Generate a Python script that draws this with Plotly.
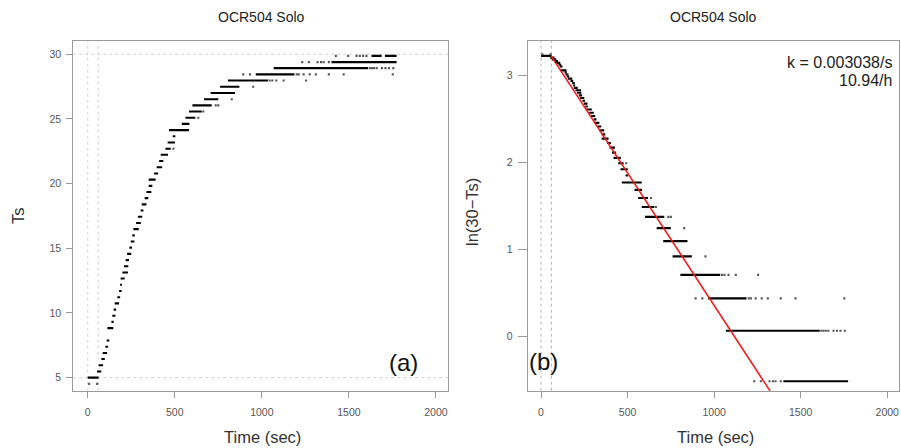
import numpy as np
import plotly.graph_objects as go

# ---------------- data ----------------
# horizontal runs of samples: temperature level, run start (s), run end (s)
seg_Ts = [5.00, 5.48, 5.96, 6.44, 6.91, 7.39, 7.87, 8.83, 9.31, 9.79,
          10.26, 10.74, 11.22, 11.70, 12.18, 12.66, 13.13, 13.61, 14.09, 14.57,
          15.05, 15.53, 16.00, 16.48, 16.96, 17.44, 17.92, 18.40, 18.88, 19.35,
          19.83, 20.31, 20.79, 21.27, 21.75, 22.23, 22.70, 23.18, 23.66, 24.14,
          24.62, 25.10, 25.58, 26.05, 26.53, 27.01, 27.49, 27.97, 28.45, 28.93,
          29.40, 29.88, 29.88]
seg_start = [0, 53, 63, 78, 86, 101, 109, 113, 136, 141,
             149, 155, 170, 180, 186, 189, 199, 208, 218, 226,
             239, 247, 256, 262, 278, 288, 304, 310, 327, 337,
             350, 350, 381, 396, 410, 419, 446, 459, 488, 467,
             540, 561, 582, 601, 668, 706, 760, 805, 965, 1068,
             1400, 1630, 1707]
seg_end = [62, 78, 88, 98, 111, 117, 124, 147, 149, 159,
           163, 180, 186, 195, 197, 212, 231, 233, 237, 250,
           254, 268, 270, 293, 305, 313, 320, 337, 348, 365,
           371, 390, 404, 427, 434, 461, 477, 501, 503, 582,
           584, 618, 655, 712, 750, 846, 871, 1035, 1187, 1610,
           1774, 1688, 1774]

# isolated samples: time (s), temperature
dot_t = [8, 54, 492, 635, 664, 735, 750, 827, 950,
         1045, 1060, 1083, 1125, 1254,
         893, 932, 1200, 1212, 1240, 1275, 1310, 1385, 1470, 1752,
         1620, 1632, 1645, 1660, 1690, 1710, 1730, 1755,
         1232, 1270, 1320, 1340, 1355, 1385,
         1425, 1496, 1544, 1563, 1582, 1601]
dot_Ts = [4.52, 4.52, 22.70, 25.10, 25.58, 26.05, 26.05, 26.53, 27.49,
          27.97, 27.97, 27.97, 27.97, 27.97,
          28.45, 28.45, 28.45, 28.45, 28.45, 28.45, 28.45, 28.45, 28.45, 28.45,
          28.93, 28.93, 28.93, 28.93, 28.93, 28.93, 28.93, 28.93,
          29.40, 29.40, 29.40, 29.40, 29.40, 29.40,
          29.88, 29.88, 29.88, 29.88, 29.88, 29.88]

T_final = 30.0          # asymptote used in ln(30 - Ts)
fit_k = 0.003038        # fitted rate (1/s)
fit_t0 = 58             # fit start time (s)
fit_y0 = 3.22           # ln(30-Ts) at fit start
fit_t1 = 1500
ref_t = [0, 60]         # dashed vertical guides (s)
ref_Ts = [5, 30]        # dashed horizontal guides
x_ticks = [0, 500, 1000, 1500, 2000]
left_y_ticks = [5, 10, 15, 20, 25, 30]
right_y_ticks = [0, 1, 2, 3]

# ---------------- helpers ----------------
W, H = 901, 448
def px(x):
    return x / W
def py(y):
    return 1 - y / H

def seg_xy(ts, t0, t1, f):
    xs, ys = [], []
    for v, a, b in zip(ts, t0, t1):
        xs += [a, b, None]
        yv = f(v)
        ys += [yv, yv, None]
    return xs, ys

ident = lambda v: v
lnf = lambda v: float(np.log(T_final - v))

fig = go.Figure()

lx, ly = seg_xy(seg_Ts, seg_start, seg_end, ident)
rx, ry = seg_xy(seg_Ts, seg_start, seg_end, lnf)

line_style = dict(color="black", width=2.1)
dot_style = dict(color="#555555", size=2.1, symbol="square", line=dict(width=0))

fig.add_trace(go.Scatter(x=lx, y=ly, mode="lines", line=line_style,
                         xaxis="x", yaxis="y", hoverinfo="skip"))
fig.add_trace(go.Scatter(x=dot_t, y=dot_Ts, mode="markers", marker=dot_style,
                         xaxis="x", yaxis="y", hoverinfo="skip"))
fig.add_trace(go.Scatter(x=rx, y=ry, mode="lines", line=line_style,
                         xaxis="x2", yaxis="y2", hoverinfo="skip"))
fig.add_trace(go.Scatter(x=dot_t, y=[lnf(v) for v in dot_Ts], mode="markers",
                         marker=dot_style, xaxis="x2", yaxis="y2", hoverinfo="skip"))
fit_x = [fit_t0, fit_t1]
fit_y = [fit_y0, fit_y0 - fit_k * (fit_t1 - fit_t0)]
fig.add_trace(go.Scatter(x=fit_x, y=fit_y, mode="lines",
                         line=dict(color="#ee1c1c", width=1.6),
                         xaxis="x2", yaxis="y2", hoverinfo="skip"))

font = "Liberation Sans, Arial, sans-serif"
axis_common = dict(showline=True, mirror=True, linecolor="#9a9a9a", linewidth=1,
                   ticks="outside", ticklen=6, tickcolor="#9a9a9a",
                   tickfont=dict(size=10.5, color="#555555", family=font),
                   showgrid=False, zeroline=False)

ydom = [py(390.7), py(41)]
fig.update_layout(
    width=W, height=H, margin=dict(l=0, r=0, t=0, b=0),
    paper_bgcolor="white", plot_bgcolor="white", showlegend=False,
    xaxis=dict(domain=[px(73.3), px(448.3)], range=[-83, 2071],
               tickvals=x_ticks, ticklabelstandoff=6, anchor="y", **axis_common),
    yaxis=dict(domain=ydom, range=[3.99, 31.03], tickvals=left_y_ticks,
               ticklabelstandoff=3, anchor="x", **axis_common),
    xaxis2=dict(domain=[px(527.7), px(899)], range=[-77, 2068],
                tickvals=x_ticks, ticklabelstandoff=6, anchor="y2", **axis_common),
    yaxis2=dict(domain=ydom, range=[-0.62, 3.39], tickvals=right_y_ticks,
                ticklabelstandoff=3, anchor="x2",
                **{**axis_common, "ticklen": 9}),
)

dash = "3px,3px"
shapes = []
for t in ref_t:
    shapes.append(dict(type="line", xref="x", yref="y domain", x0=t, x1=t, y0=0, y1=1,
                       line=dict(color="#d2d2d2", width=1, dash=dash), layer="below"))
    shapes.append(dict(type="line", xref="x2", yref="y2 domain", x0=t, x1=t, y0=0, y1=1,
                       line=dict(color="#b4b4b4", width=1, dash=dash), layer="below"))
for v in ref_Ts:
    shapes.append(dict(type="line", xref="x domain", yref="y", x0=0, x1=1, y0=v, y1=v,
                       line=dict(color="#d2d2d2", width=1, dash=dash), layer="below"))
fig.update_layout(shapes=shapes)

def ann(text, x, y, size, color="#333333", xanchor="center", angle=0):
    return dict(text=text, x=px(x), y=py(y), xref="paper", yref="paper",
                xanchor=xanchor, yanchor="middle", showarrow=False, textangle=angle,
                font=dict(size=size, color=color, family=font))

fig.update_layout(annotations=[
    ann("OCR504 Solo", 261, 17, 14, "#222222"),
    ann("OCR504 Solo", 713, 17, 14, "#222222"),
    ann("Time (sec)", 262, 437, 16.5),
    ann("Time (sec)", 715, 437, 16.5),
    ann("Ts", 18, 216, 16.5, angle=-90),
    ann("ln(30−Ts)", 472, 212, 16.5, angle=-90),
    ann("k = 0.003038/s", 894, 62, 16, "#222222", xanchor="right"),
    ann("10.94/h", 894, 80, 16, "#222222", xanchor="right"),
    ann("(a)", 403, 362, 24, "#111111"),
    ann("(b)", 543, 361, 24, "#111111"),
])

fig.write_html("out.html")
